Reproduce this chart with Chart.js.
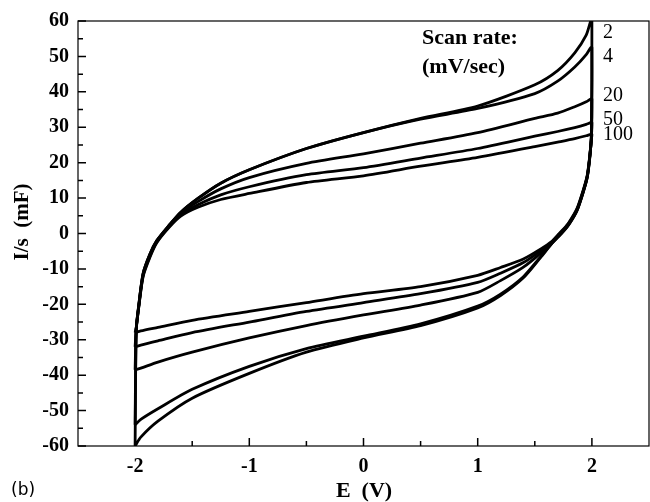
<!DOCTYPE html>
<html>
<head>
<meta charset="utf-8">
<script src="https://cdn.jsdelivr.net/npm/chart.js@4"></script>
<style>
  html, body { margin: 0; padding: 0; background: #fff; }
  #wrap { width: 650px; height: 502px; }
</style>
</head>
<body>
<div id="wrap"><canvas id="cv" width="650" height="502"></canvas></div>
<script>
// Scan rates (mV/sec)
const scanRates = ['2', '4', '20', '50', '100'];

// Forward sweep potentials (V), shared by all loops
const forwardE = [-2, -1.99, -1.97, -1.93, -1.87, -1.81, -1.7, -1.6, -1.45, -1.25, -1, -0.5, 0, 0.5, 1, 1.5, 1.7, 1.85, 1.95, 1.99];
// Reverse sweep potentials (V)
const reverseE = [2, 1.995, 1.98, 1.96, 1.93, 1.87, 1.8, 1.75, 1.7, 1.65, 1.55, 1.4, 1.2, 1, 0.5, 0, -0.5, -1, -1.5, -1.8, -1.95, -2];

// I/s (mF) on the forward sweep
const fwd2   = [-60, -27, -20.8, -11.3, -5.8, -2, 2.4, 6, 9.9, 14.2, 18, 24, 28.5, 32.5, 36, 42, 46, 51, 56, 60];
const fwd4   = [-54, -27, -20.8, -11.3, -5.8, -2, 2.4, 6, 9.9, 14.2, 18, 24, 28.5, 32.3, 35.3, 39.5, 43, 47, 50.5, 52.5];
const fwd20  = [-38.5, -27, -21, -11.6, -6.1, -2.2, 2.2, 5.7, 9, 12.6, 15.8, 19.8, 22.5, 25.5, 28.5, 32.5, 34, 35.8, 37.2, 38];
const fwd50  = [-32, -27, -21.2, -11.9, -6.4, -2.4, 2, 5.3, 8.1, 10.9, 13.2, 16.6, 18.6, 21.3, 24, 27.5, 28.8, 29.9, 30.8, 31.3];
const fwd100 = [-28, -26.5, -21.4, -12.2, -6.7, -2.6, 1.8, 4.9, 7.4, 9.6, 11.3, 14.4, 16.3, 19, 21.5, 24.5, 25.8, 26.8, 27.6, 28];

// I/s (mF) on the reverse sweep
const rev2   = [60, 27, 21, 16, 12.3, 6.5, 2.6, 0.6, -1.1, -2.8, -6.8, -12.5, -17.5, -21, -26, -29.5, -33.5, -39.5, -46.5, -53, -57.5, -60];
const rev4   = [52.5, 27, 21, 16, 12.3, 6.5, 2.6, 0.6, -1.1, -2.8, -6.6, -12.2, -17.1, -20.5, -25.5, -29, -32.5, -37.5, -44, -49.5, -52.5, -54];
const rev20  = [38, 27, 21.2, 16.2, 12.5, 6.7, 2.8, 0.8, -0.9, -2.6, -5.6, -9.5, -13.3, -16.6, -20.2, -23, -26, -29.5, -33.5, -36.3, -38, -38.5];
const rev50  = [31.3, 27, 21.4, 16.4, 12.7, 6.9, 3, 1, -0.7, -2.4, -4.9, -8.2, -11.2, -13.8, -17, -19.5, -22, -25, -28, -30.3, -31.5, -32];
const rev100 = [28, 26.5, 21.6, 16.6, 12.9, 7.1, 3.2, 1.2, -0.5, -2.2, -4.4, -7.2, -9.6, -11.8, -15, -17, -19.5, -22, -24.5, -26.5, -27.5, -28];

// Axis ticks
const xTicks = [-2, -1, 0, 1, 2];
const xMinorTicks = [-1.5, -0.5, 0.5, 1.5];
const yTicks = [-60, -50, -40, -30, -20, -10, 0, 10, 20, 30, 40, 50, 60];
const yMinorTicks = [-55, -45, -35, -25, -15, -5, 5, 15, 25, 35, 45, 55];

const fwdSets = [fwd2, fwd4, fwd20, fwd50, fwd100];
const revSets = [rev2, rev4, rev20, rev50, rev100];

// where each scan-rate label sits (I/s value)
const labelY = [56.7, 50, 39, 32, 28];

function loop(fwd, rev) {
    const pts = forwardE.map((e, i) => ({ x: e, y: fwd[i] }));
    return pts.concat(reverseE.map((e, i) => ({ x: e, y: rev[i] })));
}

const serif = '"Liberation Serif", "Times New Roman", serif';

const decorations = {
    id: 'decorations',
    afterDraw(chart) {
        const ctx = chart.ctx;
        const area = chart.chartArea;
        const xs = chart.scales.x;
        const ys = chart.scales.y;
        ctx.save();
        ctx.strokeStyle = '#000';
        ctx.lineWidth = 1.2;
        ctx.strokeRect(area.left, area.top, area.right - area.left, area.bottom - area.top);

        // inward ticks
        ctx.lineWidth = 1.5;
        ctx.beginPath();
        xTicks.forEach(v => { const p = xs.getPixelForValue(v); ctx.moveTo(p, area.bottom); ctx.lineTo(p, area.bottom - 8); });
        xMinorTicks.forEach(v => { const p = xs.getPixelForValue(v); ctx.moveTo(p, area.bottom); ctx.lineTo(p, area.bottom - 5); });
        yTicks.forEach(v => { const p = ys.getPixelForValue(v); ctx.moveTo(area.left, p); ctx.lineTo(area.left + 8, p); });
        yMinorTicks.forEach(v => { const p = ys.getPixelForValue(v); ctx.moveTo(area.left, p); ctx.lineTo(area.left + 5, p); });
        ctx.stroke();

        ctx.fillStyle = '#000';
        // axis titles
        ctx.font = 'bold 22px ' + serif;
        ctx.textAlign = 'center';
        ctx.textBaseline = 'middle';
        ctx.fillText('E  (V)', 364, 491);
        ctx.save();
        ctx.translate(23, 222);
        ctx.rotate(-Math.PI / 2);
        ctx.font = 'bold 21px ' + serif;
        ctx.fillText('I/s  (mF)', 0, 0);
        ctx.restore();

        // panel label
        ctx.font = '17px "DejaVu Sans", sans-serif';
        ctx.textAlign = 'left';
        ctx.fillText('(b)', 11, 491);

        // scan rate annotation
        ctx.font = 'bold 22px ' + serif;
        ctx.fillText('Scan rate:', 422, 38);
        ctx.fillText('(mV/sec)', 422, 67);

        ctx.font = '20px ' + serif;
        const lx = xs.getPixelForValue(2) + 11;
        scanRates.forEach((r, i) => {
            ctx.fillText(r, lx, ys.getPixelForValue(labelY[i]));
        });
        ctx.restore();
    }
};

new Chart(document.getElementById('cv'), {
    type: 'scatter',
    data: {
        datasets: scanRates.map((r, i) => ({
            label: r + ' mV/sec',
            data: loop(fwdSets[i], revSets[i]),
            showLine: true,
            borderColor: '#000',
            borderWidth: 2.8,
            pointRadius: 0,
            tension: 0.25,
            fill: false
        }))
    },
    options: {
        responsive: false,
        animation: false,
        layout: { padding: { top: 20, right: 1, left: 0, bottom: 0 } },
        plugins: { legend: { display: false }, tooltip: { enabled: false } },
        scales: {
            x: {
                type: 'linear',
                min: -2.5,
                max: 2.5,
                afterBuildTicks: s => { s.ticks = xTicks.map(v => ({ value: v })); },
                afterFit: s => { s.height = 56; },
                grid: { display: false, drawTicks: false },
                border: { display: false },
                ticks: {
                    color: '#000',
                    padding: 9,
                    font: { family: serif, size: 20, weight: 'bold' }
                }
            },
            y: {
                type: 'linear',
                min: -60,
                max: 60,
                afterBuildTicks: s => { s.ticks = yTicks.map(v => ({ value: v })); },
                afterFit: s => { s.width = 78; },
                grid: { display: false, drawTicks: false },
                border: { display: false },
                ticks: {
                    color: '#000',
                    padding: 9,
                    font: { family: serif, size: 20, weight: 'bold' }
                }
            }
        }
    },
    plugins: [decorations]
});
</script>
</body>
</html>
